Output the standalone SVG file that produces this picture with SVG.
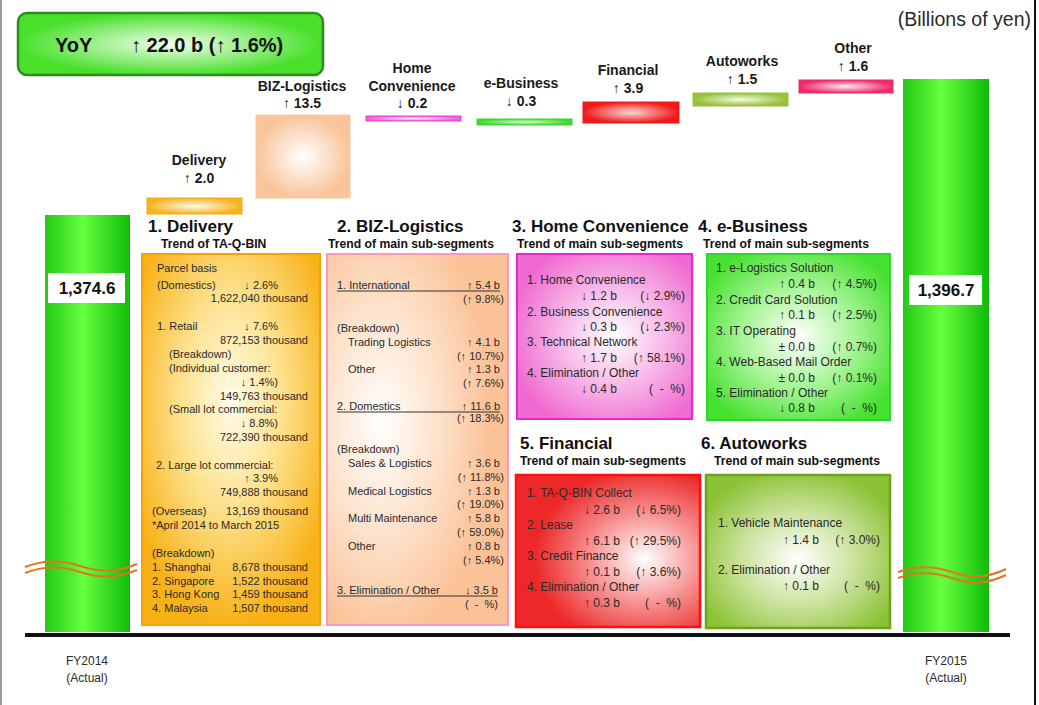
<svg xmlns="http://www.w3.org/2000/svg" width="1039" height="705" viewBox="0 0 1039 705">
<defs>
<style>
text{font-family:"Liberation Sans",Arial,sans-serif;fill:#2a2a2a}
.h{font-size:17px;font-weight:bold;fill:#111}
.sh{font-size:12.2px;font-weight:bold;fill:#111}
.b{font-size:11px}
.m{font-size:12px}
.tl{font-size:14px;font-weight:bold;fill:#1a1a1a;text-anchor:middle}
.e{text-anchor:end}
.ul{stroke:#333;stroke-width:1}
.wave{fill:none;stroke:#e8731e;stroke-width:2}
</style>
<linearGradient id="gBar" x1="0" y1="0" x2="1" y2="0">
<stop offset="0" stop-color="#22c915"/><stop offset="0.45" stop-color="#66ff3e"/><stop offset="1" stop-color="#0fbb08"/>
</linearGradient>
<radialGradient id="gYoY"><stop offset="0" stop-color="#f2fff0"/><stop offset="1" stop-color="#48e02a"/></radialGradient>
<radialGradient id="gDelBar"><stop offset="0" stop-color="#fffbe8"/><stop offset="1" stop-color="#f6b323"/></radialGradient>
<radialGradient id="gBizBar"><stop offset="0" stop-color="#ffffff"/><stop offset="1" stop-color="#f9c49a"/></radialGradient>
<radialGradient id="gHomeBar"><stop offset="0" stop-color="#fde8f8"/><stop offset="1" stop-color="#ef5fd9"/></radialGradient>
<radialGradient id="gEbBar"><stop offset="0" stop-color="#d8ffd0"/><stop offset="1" stop-color="#3cd92c"/></radialGradient>
<radialGradient id="gFinBar"><stop offset="0" stop-color="#ffd8d8"/><stop offset="1" stop-color="#ee1a1a"/></radialGradient>
<radialGradient id="gAutoBar"><stop offset="0" stop-color="#f4fbe4"/><stop offset="1" stop-color="#97c139"/></radialGradient>
<radialGradient id="gOthBar"><stop offset="0" stop-color="#ffecf2"/><stop offset="1" stop-color="#ee2a6a"/></radialGradient>
<radialGradient id="gDel" cx="0.5" cy="0.4" r="0.6"><stop offset="0" stop-color="#fffce8"/><stop offset="0.5" stop-color="#fde08a"/><stop offset="1" stop-color="#f8b218"/></radialGradient>
<radialGradient id="gBiz" cx="0.3" cy="0.45" r="0.6"><stop offset="0" stop-color="#ffffff"/><stop offset="0.55" stop-color="#fde0c8"/><stop offset="1" stop-color="#fbc298"/></radialGradient>
<radialGradient id="gHome" cx="0.55" cy="0.5" r="0.6"><stop offset="0" stop-color="#ffffff"/><stop offset="0.5" stop-color="#f8b8e8"/><stop offset="1" stop-color="#ef6ad0"/></radialGradient>
<radialGradient id="gEb" cx="0.5" cy="0.5" r="0.6"><stop offset="0" stop-color="#ffffff"/><stop offset="0.5" stop-color="#a8f598"/><stop offset="1" stop-color="#46e030"/></radialGradient>
<radialGradient id="gFin" cx="0.7" cy="0.55" r="0.6"><stop offset="0" stop-color="#ffffff"/><stop offset="0.5" stop-color="#f79090"/><stop offset="1" stop-color="#ec2828"/></radialGradient>
<radialGradient id="gAuto" cx="0.5" cy="0.55" r="0.6"><stop offset="0" stop-color="#ffffff"/><stop offset="0.5" stop-color="#cde3a0"/><stop offset="1" stop-color="#8bc236"/></radialGradient>
</defs>
<rect x="0" y="0" width="1039" height="705" fill="#ffffff"/>
<line x1="1" y1="0" x2="1" y2="705" stroke="#9a9a9a" stroke-width="2"/>
<line x1="1035" y1="0" x2="1035" y2="705" stroke="#111" stroke-width="2"/>
<text x="1031" y="26" style="font-size:19.5px" class="e">(Billions of yen)</text>

<g id="yoy">
<rect x="18" y="13" width="305" height="62" rx="9" fill="url(#gYoY)" stroke="#2e8b1e" stroke-width="2.5"/>
<text x="55" y="52" style="font-size:20px;font-weight:bold;fill:#111">YoY</text>
<text x="131" y="52" style="font-size:20px;font-weight:bold;fill:#111">↑ 22.0 b (↑ 1.6%)</text>
</g>

<g id="fy2014">
<rect x="45" y="215" width="85" height="417" fill="url(#gBar)"/>
<rect x="48" y="273" width="77" height="30" fill="#fff"/>
<text x="87" y="294" style="font-size:17px;font-weight:bold;fill:#111;text-anchor:middle">1,374.6</text>
<text x="87" y="665" class="m" style="text-anchor:middle">FY2014</text>
<text x="87" y="682" class="m" style="text-anchor:middle">(Actual)</text>
</g>
<g id="fy2015">
<rect x="903" y="79" width="86" height="553" fill="url(#gBar)"/>
<rect x="909" y="275" width="73" height="30" fill="#fff"/>
<text x="946" y="296" style="font-size:17px;font-weight:bold;fill:#111;text-anchor:middle">1,396.7</text>
<text x="946" y="665" class="m" style="text-anchor:middle">FY2015</text>
<text x="946" y="682" class="m" style="text-anchor:middle">(Actual)</text>
</g>

<g id="bar-delivery">
<rect x="147" y="198" width="95" height="16" fill="url(#gDelBar)" stroke="#f2a90e" stroke-width="1"/>
<text x="199" y="165" class="tl">Delivery</text>
<text x="199" y="183" class="tl">↑ 2.0</text>
</g>
<g id="bar-biz">
<rect x="256" y="115" width="94" height="83" fill="url(#gBizBar)" stroke="#f8c9a8" stroke-width="1"/>
<text x="302" y="91" class="tl">BIZ-Logistics</text>
<text x="302" y="108" class="tl">↑ 13.5</text>
</g>
<g id="bar-home">
<rect x="366" y="116" width="95" height="5" fill="url(#gHomeBar)" stroke="#e640d0" stroke-width="1"/>
<text x="412" y="73" class="tl">Home</text>
<text x="412" y="91" class="tl">Convenience</text>
<text x="412" y="108" class="tl">↓ 0.2</text>
</g>
<g id="bar-ebusiness">
<rect x="477" y="119" width="95" height="6" fill="url(#gEbBar)" stroke="#3cd92c" stroke-width="1"/>
<text x="521" y="88" class="tl">e-Business</text>
<text x="521" y="106" class="tl">↓ 0.3</text>
</g>
<g id="bar-financial">
<rect x="583" y="102" width="96" height="21" fill="url(#gFinBar)" stroke="#ee1a1a" stroke-width="1"/>
<text x="628" y="75" class="tl">Financial</text>
<text x="628" y="93" class="tl">↑ 3.9</text>
</g>
<g id="bar-autoworks">
<rect x="693" y="93" width="95" height="13" fill="url(#gAutoBar)" stroke="#97c139" stroke-width="1"/>
<text x="742" y="66" class="tl">Autoworks</text>
<text x="742" y="84" class="tl">↑ 1.5</text>
</g>
<g id="bar-other">
<rect x="799" y="80" width="94" height="13" fill="url(#gOthBar)" stroke="#ee2a6a" stroke-width="1"/>
<text x="853" y="53" class="tl">Other</text>
<text x="853" y="71" class="tl">↑ 1.6</text>
</g>

<g id="seg-delivery">
<text x="148" y="232" class="h">1. Delivery</text>
<text x="161" y="248" class="sh">Trend of TA-Q-BIN</text>
<rect x="142" y="254" width="178" height="371" fill="url(#gDel)" stroke="#f5a300" stroke-width="2"/>
<g class="b">
<text x="157" y="272">Parcel basis</text>
<text x="157" y="289">(Domestics)</text><text x="278" y="289" class="e">↓ 2.6%</text>
<text x="308" y="302" class="e">1,622,040 thousand</text>
<text x="157" y="330">1. Retail</text><text x="278" y="330" class="e">↓ 7.6%</text>
<text x="308" y="344" class="e">872,153 thousand</text>
<text x="169" y="358">(Breakdown)</text>
<text x="169" y="372">(Individual  customer:</text>
<text x="278" y="386" class="e">↓ 1.4%)</text>
<text x="308" y="400" class="e">149,763 thousand</text>
<text x="169" y="413">(Small lot commercial:</text>
<text x="278" y="427" class="e">↓ 8.8%)</text>
<text x="308" y="441" class="e">722,390 thousand</text>
<text x="156" y="469">2. Large lot commercial:</text>
<text x="278" y="482" class="e">↑ 3.9%</text>
<text x="308" y="496" class="e">749,888 thousand</text>
<text x="152" y="515">(Overseas)</text><text x="308" y="515" class="e">13,169 thousand</text>
<text x="152" y="529">*April 2014 to March 2015</text>
<text x="152" y="557">(Breakdown)</text>
<text x="152" y="571">1. Shanghai</text><text x="308" y="571" class="e">8,678 thousand</text>
<text x="152" y="585">2. Singapore</text><text x="308" y="585" class="e">1,522 thousand</text>
<text x="152" y="598">3. Hong Kong</text><text x="308" y="598" class="e">1,459 thousand</text>
<text x="152" y="612">4. Malaysia</text><text x="308" y="612" class="e">1,507 thousand</text>
</g>
</g>

<g id="seg-biz">
<text x="337" y="232" class="h">2. BIZ-Logistics</text>
<text x="328" y="248" class="sh">Trend of main sub-segments</text>
<rect x="327" y="254" width="181" height="371" fill="url(#gBiz)" stroke="#f59ac2" stroke-width="2"/>
<g class="b">
<text x="337" y="289">1. International</text><text x="500" y="289" class="e">↑ 5.4 b</text>
<line x1="337" y1="291" x2="500" y2="291" class="ul"/>
<text x="504" y="303" class="e">(↑ 9.8%)</text>
<text x="337" y="332">(Breakdown)</text>
<text x="348" y="346">Trading Logistics</text><text x="500" y="346" class="e">↑ 4.1 b</text>
<text x="504" y="360" class="e">(↑ 10.7%)</text>
<text x="348" y="373">Other</text><text x="500" y="373" class="e">↑ 1.3 b</text>
<text x="504" y="387" class="e">(↑ 7.6%)</text>
<text x="337" y="410">2. Domestics</text><text x="500" y="410" class="e">↑ 11.6 b</text>
<line x1="337" y1="412" x2="500" y2="412" class="ul"/>
<text x="504" y="422" class="e">(↑ 18.3%)</text>
<text x="337" y="453">(Breakdown)</text>
<text x="348" y="467">Sales &amp; Logistics</text><text x="500" y="467" class="e">↑ 3.6 b</text>
<text x="504" y="481" class="e">(↑ 11.8%)</text>
<text x="348" y="495">Medical Logistics</text><text x="500" y="495" class="e">↑ 1.3 b</text>
<text x="504" y="508" class="e">(↑ 19.0%)</text>
<text x="348" y="522">Multi Maintenance</text><text x="500" y="522" class="e">↑ 5.8 b</text>
<text x="504" y="536" class="e">(↑ 59.0%)</text>
<text x="348" y="550">Other</text><text x="500" y="550" class="e">↑ 0.8 b</text>
<text x="504" y="564" class="e">(↑ 5.4%)</text>
<text x="337" y="594">3. Elimination / Other</text><text x="498" y="594" class="e">↓ 3.5 b</text>
<line x1="337" y1="596" x2="498" y2="596" class="ul"/>
<text x="498" y="608" class="e" xml:space="preserve">(  -  %)</text>
</g>
</g>

<g id="seg-home">
<text x="512" y="232" class="h">3. Home Convenience</text>
<text x="517" y="248" class="sh">Trend of main sub-segments</text>
<rect x="517" y="254" width="175" height="165" fill="url(#gHome)" stroke="#ee22dd" stroke-width="2"/>
<g class="m">
<text x="527" y="284">1. Home Convenience</text>
<text x="617" y="300" class="e">↓ 1.2 b</text><text x="685" y="300" class="e">(↓ 2.9%)</text>
<text x="527" y="316">2. Business Convenience</text>
<text x="617" y="331" class="e">↓ 0.3 b</text><text x="685" y="331" class="e">(↓ 2.3%)</text>
<text x="527" y="346">3. Technical Network</text>
<text x="617" y="362" class="e">↑ 1.7 b</text><text x="685" y="362" class="e">(↑ 58.1%)</text>
<text x="527" y="377">4. Elimination / Other</text>
<text x="617" y="393" class="e">↓ 0.4 b</text><text x="685" y="393" class="e" xml:space="preserve">(  -  %)</text>
</g>
</g>

<g id="seg-ebusiness">
<text x="698" y="232" class="h">4. e-Business</text>
<text x="703" y="248" class="sh">Trend of main sub-segments</text>
<rect x="707" y="254" width="183" height="166" fill="url(#gEb)" stroke="#2ed82a" stroke-width="2"/>
<g class="m">
<text x="716" y="272">1. e-Logistics Solution</text>
<text x="815" y="288" class="e">↑ 0.4 b</text><text x="877" y="288" class="e">(↑ 4.5%)</text>
<text x="716" y="304">2. Credit Card Solution</text>
<text x="815" y="319" class="e">↑ 0.1 b</text><text x="877" y="319" class="e">(↑ 2.5%)</text>
<text x="716" y="335">3. IT Operating</text>
<text x="815" y="351" class="e">± 0.0 b</text><text x="877" y="351" class="e">(↑ 0.7%)</text>
<text x="716" y="366">4. Web-Based Mail Order</text>
<text x="815" y="382" class="e">± 0.0 b</text><text x="877" y="382" class="e">(↑ 0.1%)</text>
<text x="716" y="397">5. Elimination / Other</text>
<text x="815" y="412" class="e">↓ 0.8 b</text><text x="877" y="412" class="e" xml:space="preserve">(  -  %)</text>
</g>
</g>

<g id="seg-financial">
<text x="520" y="449" class="h">5. Financial</text>
<text x="520" y="465" class="sh">Trend of main sub-segments</text>
<rect x="516" y="475" width="184" height="152" fill="url(#gFin)" stroke="#ff1010" stroke-width="2.5"/>
<g class="m">
<text x="527" y="497">1. TA-Q-BIN Collect</text>
<text x="620" y="514" class="e">↓ 2.6 b</text><text x="681" y="514" class="e">(↓ 6.5%)</text>
<text x="527" y="529">2. Lease</text>
<text x="620" y="545" class="e">↑ 6.1 b</text><text x="681" y="545" class="e">(↑ 29.5%)</text>
<text x="527" y="560">3. Credit Finance</text>
<text x="620" y="576" class="e">↑ 0.1 b</text><text x="681" y="576" class="e">(↑ 3.6%)</text>
<text x="527" y="591">4. Elimination / Other</text>
<text x="620" y="607" class="e">↑ 0.3 b</text><text x="681" y="607" class="e" xml:space="preserve">(  -  %)</text>
</g>
</g>

<g id="seg-autoworks">
<text x="701" y="449" class="h">6. Autoworks</text>
<text x="714" y="465" class="sh">Trend of main sub-segments</text>
<rect x="706" y="475" width="184" height="153" fill="url(#gAuto)" stroke="#6aa51a" stroke-width="2.5"/>
<g class="m">
<text x="718" y="527">1. Vehicle Maintenance</text>
<text x="819" y="544" class="e">↑ 1.4 b</text><text x="880" y="544" class="e">(↑ 3.0%)</text>
<text x="718" y="574">2. Elimination / Other</text>
<text x="819" y="590" class="e">↑ 0.1 b</text><text x="880" y="590" class="e" xml:space="preserve">(  -  %)</text>
</g>
</g>

<g id="connectors">
<line x1="25" y1="635" x2="1010" y2="635" stroke="#111" stroke-width="4"/>
<path class="wave" d="M25,567 C45,559 62,560 80,566 S115,573 137,564"/>
<path class="wave" d="M25,573 C45,565 62,566 80,572 S115,579 137,570"/>
<path class="wave" d="M898,572 C918,565 935,566 952,572 S985,579 1006,569"/>
<path class="wave" d="M898,578 C918,571 935,572 952,578 S985,585 1006,575"/>
</g>
</svg>
